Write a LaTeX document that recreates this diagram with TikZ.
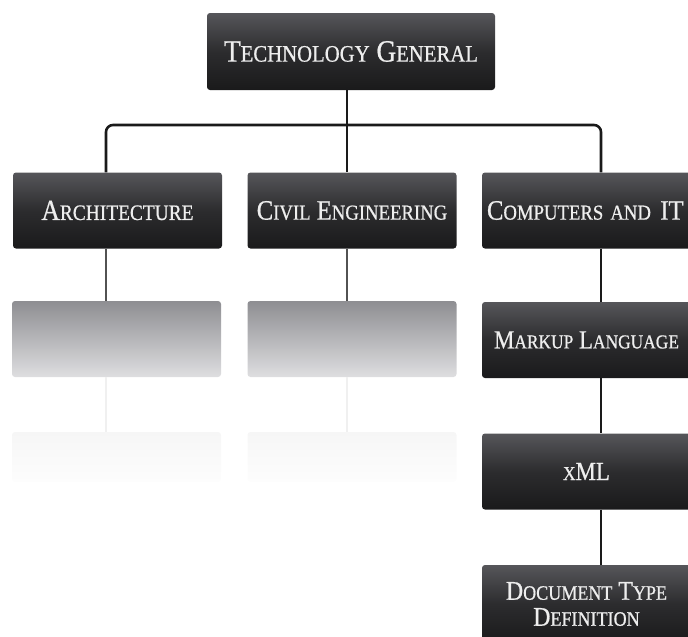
\documentclass[tikz,border=0pt]{standalone}
\usepackage{fontspec}
\setmainfont{Liberation Serif}[FakeStretch=0.88,FakeBold=0.7]
\usetikzlibrary{calc}
\definecolor{boxtop}{HTML}{56565A}
\definecolor{boxmid}{HTML}{2C2C2E}
\definecolor{boxbot}{HTML}{1A1A1B}
\definecolor{ghosttop}{HTML}{8E8E92}
\definecolor{ghostbot}{HTML}{DEDEE0}
\definecolor{fainttop}{HTML}{F6F6F6}
\definecolor{faintbot}{HTML}{FDFDFD}
\definecolor{linecol}{HTML}{1A1A1A}
\definecolor{txtcol}{HTML}{EEEEEE}
\newcommand\sw[1]{\scalebox{0.76}{#1}}
\begin{document}
\begin{tikzpicture}[x=1pt,y=-1pt,
  darkbox/.style={rectangle, rounded corners=3pt, minimum width=209pt, minimum height=76pt,
    top color=boxtop, bottom color=boxbot, middle color=boxmid, draw=none,
    text=txtcol, align=center, font=\fontsize{28}{30}\selectfont, inner sep=0pt},
  ghostbox/.style={rectangle, rounded corners=3pt, minimum width=209pt, minimum height=76pt,
    top color=ghosttop, bottom color=ghostbot, draw=none},
  faintbox/.style={rectangle, rounded corners=3pt, minimum width=209pt, minimum height=50pt,
    top color=fainttop, bottom color=faintbot, draw=none},
  conn/.style={draw=linecol, line width=2.6pt},
  ghostconn/.style={draw=black!68, line width=2.6pt},
  faintconn/.style={draw=black!6, line width=2.6pt}
]
\useasboundingbox (0,0) rectangle (688,637);
% top
\node[darkbox, minimum width=288pt, minimum height=77pt, font=\fontsize{31}{33}\selectfont] (top) at (351,51.5) {T\sw{ECHNOLOGY} G\sw{ENERAL}};
% level 2
\node[darkbox, font=\fontsize{29}{31}\selectfont] (arch) at (117.5,210.5) {A\sw{RCHITECTURE}};
\node[darkbox] (civil) at (352,210.5) {C\sw{IVIL} E\sw{NGINEERING}};
\node[darkbox, text width=199pt, align=left] (comp) at (586.5,210.5) {C\sw{OMPUTERS AND} IT};
% ghost boxes
\node[ghostbox] (g1) at (116.5,339) {};
\node[ghostbox] (g2) at (352,339) {};
\node[faintbox] (f1) at (116.5,457) {};
\node[faintbox] (f2) at (352,457) {};
% right column
\node[darkbox, font=\fontsize{26}{28}\selectfont] (markup) at (586.5,340) {M\sw{ARKUP} L\sw{ANGUAGE}};
\node[darkbox, font=\fontsize{26}{28}\selectfont] (xml) at (586.5,471.5) {\sw{X}ML};
\node[darkbox, minimum height=78pt, font=\fontsize{27}{26}\selectfont] (dtd) at (586.5,604) {D\sw{OCUMENT} T\sw{YPE}\\D\sw{EFINITION}};
% line positions
\coordinate (xa) at (106,0);
\coordinate (xc) at (347,0);
\coordinate (xr) at (601,0);
\coordinate (bus) at (347,125);
% connectors
\draw[conn] (top.south -| xc) -- (civil.north -| xc);
\draw[conn, rounded corners=7pt] (arch.north -| xa) |- (bus) -| (comp.north -| xr);
\draw[ghostconn] (arch.south -| xa) -- (g1.north -| xa);
\draw[ghostconn] (civil.south -| xc) -- (g2.north -| xc);
\draw[faintconn] (g1.south -| xa) -- (f1.north -| xa);
\draw[faintconn] (g2.south -| xc) -- (f2.north -| xc);
\draw[conn] (comp.south -| xr) -- (markup.north -| xr);
\draw[conn] (markup.south -| xr) -- (xml.north -| xr);
\draw[conn] (xml.south -| xr) -- (dtd.north -| xr);
\end{tikzpicture}
\end{document}
